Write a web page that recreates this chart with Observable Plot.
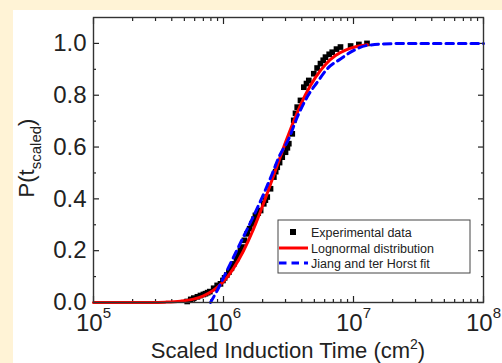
<!DOCTYPE html>
<html><head><meta charset="utf-8">
<script src="https://cdn.jsdelivr.net/npm/d3@7"></script>
<script src="https://cdn.jsdelivr.net/npm/@observablehq/plot@0.6"></script>
<style>
html,body{margin:0;padding:0;background:#FFF3D6;width:502px;height:363px;overflow:hidden}
#panel{position:absolute;left:13px;top:10px;width:489px;height:353px;background:#fff}
#chart{position:absolute;left:0;top:0}
</style></head><body><div id="panel"></div><div id="chart"></div>
<script>
// ---- data ----
const expT = [5.26e5, 5.6e5, 5.91e5, 6.3e5, 6.65e5, 7.0e5, 7.27e5, 7.55e5, 7.85e5, 8.4e5, 8.94e5, 9.48e5, 9.9e5, 1.02e6, 1.06e6, 1.10e6, 1.15e6, 1.20e6, 1.26e6, 1.31e6, 1.35e6, 1.39e6, 1.45e6, 1.52e6, 1.59e6, 1.66e6, 1.72e6, 1.76e6, 1.85e6, 1.93e6, 2.04e6, 2.10e6, 2.17e6, 2.30e6, 2.44e6, 2.52e6, 2.59e6, 2.70e6, 2.83e6, 3.00e6, 3.10e6, 3.18e6, 3.38e6, 3.47e6, 3.58e6, 3.69e6, 3.91e6, 4.15e6, 4.35e6, 4.53e6, 4.95e6, 5.25e6, 5.57e6, 5.85e6, 6.09e6, 6.5e6, 6.86e6, 7.4e6, 7.94e6, 9.5e6, 1.10e7, 1.27e7];
const expP = [0.004, 0.012, 0.017, 0.022, 0.027, 0.031, 0.034, 0.038, 0.042, 0.055, 0.066, 0.072, 0.085, 0.095, 0.106, 0.117, 0.132, 0.149, 0.17, 0.188, 0.2, 0.214, 0.24, 0.265, 0.285, 0.304, 0.322, 0.336, 0.345, 0.355, 0.381, 0.395, 0.407, 0.439, 0.484, 0.505, 0.522, 0.54, 0.561, 0.580, 0.597, 0.613, 0.651, 0.703, 0.73, 0.754, 0.780, 0.831, 0.845, 0.857, 0.883, 0.905, 0.922, 0.935, 0.947, 0.958, 0.966, 0.978, 0.986, 0.99, 0.996, 1.0];

const lognT = [1e5, 2.74e5, 3.58e5, 4.67e5, 5.88e5, 7.02e5, 8.38e5, 1.0e6, 1.19e6, 1.42e6, 1.70e6, 2.03e6, 2.47e6, 3.00e6, 3.58e6, 4.27e6, 5.10e6, 6.09e6, 7.27e6, 8.68e6, 1.04e7, 1.28e7];
const lognP = [0, 0.0003, 0.0014, 0.005, 0.013, 0.026, 0.047, 0.081, 0.131, 0.198, 0.283, 0.382, 0.5, 0.618, 0.717, 0.802, 0.869, 0.919, 0.953, 0.974, 0.987, 0.995];

const jthT = [7.94e5, 8.94e5, 1.005e6, 1.13e6, 1.35e6, 1.71e6, 2.04e6, 2.37e6, 2.66e6, 3.18e6, 3.69e6, 4.40e6, 5.26e6, 6.28e6, 7.94e6, 1.005e7, 1.27e7, 1.93e7, 3.0e7, 1e8];
const jthP = [0, 0.046, 0.098, 0.15, 0.23, 0.336, 0.42, 0.497, 0.56, 0.632, 0.715, 0.793, 0.85, 0.902, 0.94, 0.973, 0.992, 0.999, 1.0, 1.0];

const xMajor = [1e5, 1e6, 1e7, 1e8];
const xExponents = ["5", "6", "7", "8"];
const yMajor = [0, 0.2, 0.4, 0.6, 0.8, 1.0];
const yLabels = ["0.0", "0.2", "0.4", "0.6", "0.8", "1.0"];
const yMinor = [0.1, 0.3, 0.5, 0.7, 0.9];
const xMinor = [1e5, 1e6, 1e7].flatMap(b => [2,3,4,5,6,7,8,9].map(m => m * b));

const legendItems = ["Experimental data", "Lognormal distribution", "Jiang and ter Horst fit"];

const expData = expT.map((t, i) => ({t, p: expP[i]}));
const lognData = lognT.map((t, i) => ({t, p: lognP[i]}));
const jthData = jthT.map((t, i) => ({t, p: jthP[i]}));

const font = "'Liberation Sans', Arial, sans-serif";
const ink = "#222";

const chart = Plot.plot({
  width: 502, height: 363,
  marginLeft: 93, marginRight: 19, marginTop: 17, marginBottom: 61,
  style: {background: "transparent", fontFamily: font, color: ink, overflow: "visible"},
  x: {type: "log", domain: [1e5, 1e8]},
  y: {domain: [0, 1.1]},
  marks: [
    Plot.axisX(xMajor, {anchor: "bottom", tickSize: -6, tickPadding: 17, fontSize: 24, label: null,
      tickFormat: d => "10|" + xExponents[xMajor.indexOf(d)], strokeWidth: 1.2}),
    Plot.axisX(xMinor, {anchor: "bottom", tickSize: -3, tickFormat: () => "", label: null, strokeWidth: 1.2}),
    Plot.axisX(xMajor, {anchor: "top", tickSize: -6, tickFormat: () => "", label: null, strokeWidth: 1.2}),
    Plot.axisX(xMinor, {anchor: "top", tickSize: -3, tickFormat: () => "", label: null, strokeWidth: 1.2}),
    Plot.axisY(yMajor, {anchor: "left", tickSize: -6, tickPadding: 13, fontSize: 24, label: null,
      tickFormat: d => yLabels[yMajor.indexOf(d)], strokeWidth: 1.2}),
    Plot.axisY(yMinor, {anchor: "left", tickSize: -3, tickFormat: () => "", label: null, strokeWidth: 1.2}),
    Plot.axisY(yMajor, {anchor: "right", tickSize: -6, tickFormat: () => "", label: null, strokeWidth: 1.2}),
    Plot.axisY(yMinor, {anchor: "right", tickSize: -3, tickFormat: () => "", label: null, strokeWidth: 1.2}),
    Plot.dot(expData, {x: "t", y: "p", symbol: "square", r: 3.2, fill: "#000", stroke: null}),
    Plot.line(lognData, {x: "t", y: "p", stroke: "#FF0000", strokeWidth: 3, curve: "monotone-x"}),
    Plot.line(jthData, {x: "t", y: "p", stroke: "#0000FF", strokeWidth: 3, strokeDasharray: "7.5,5", curve: "monotone-x"}),
    Plot.frame({stroke: "#333", strokeWidth: 1.4})
  ]
});
document.getElementById("chart").appendChild(chart);

const svg = d3.select(chart);
// superscripts on the x tick labels
svg.selectAll("text").each(function() {
  const s = this.textContent;
  if (s.startsWith("10|")) {
    const exp = s.split("|")[1];
    const el = d3.select(this);
    el.text("10");
    el.append("tspan").attr("dy", -13).attr("font-size", 15).text(exp);
  }
});

// axis titles
const xt = svg.append("text").attr("x", 288).attr("y", 358).attr("text-anchor", "middle")
  .attr("font-family", font).attr("font-size", 22).attr("fill", ink);
xt.append("tspan").text("Scaled Induction Time (cm");
xt.append("tspan").attr("font-size", 14).attr("dy", -9).text("2");
xt.append("tspan").attr("dy", 9).text(")");

const yt = svg.append("text").attr("transform", "translate(34,158) rotate(-90)").attr("text-anchor", "middle")
  .attr("font-family", font).attr("font-size", 22).attr("fill", ink);
yt.append("tspan").text("P(t");
yt.append("tspan").attr("font-size", 15).attr("dy", 7).text("scaled");
yt.append("tspan").attr("dy", -7).text(")");

// legend
const lg = svg.append("g").attr("transform", "translate(278,220)").attr("font-family", font).attr("text-anchor", "start");
lg.append("rect").attr("x", 0).attr("y", 0).attr("width", 192).attr("height", 53)
  .attr("fill", "#fff").attr("stroke", "#444").attr("stroke-width", 1);
const rows = [12, 28, 43];
lg.append("rect").attr("x", 12).attr("y", rows[0] - 3).attr("width", 6).attr("height", 6).attr("fill", "#000");
lg.append("line").attr("x1", 1).attr("x2", 30).attr("y1", rows[1]).attr("y2", rows[1]).attr("stroke", "#FF0000").attr("stroke-width", 3);
lg.append("line").attr("x1", 1).attr("x2", 30).attr("y1", rows[2]).attr("y2", rows[2]).attr("stroke", "#0000FF").attr("stroke-width", 3).attr("stroke-dasharray", "7.5,5");
legendItems.forEach((s, i) => {
  lg.append("text").attr("x", 33).attr("y", rows[i] + 4.5).attr("font-size", 12.5).attr("fill", ink)
    .attr("text-anchor", "start").text(s);
});
</script></body></html>
